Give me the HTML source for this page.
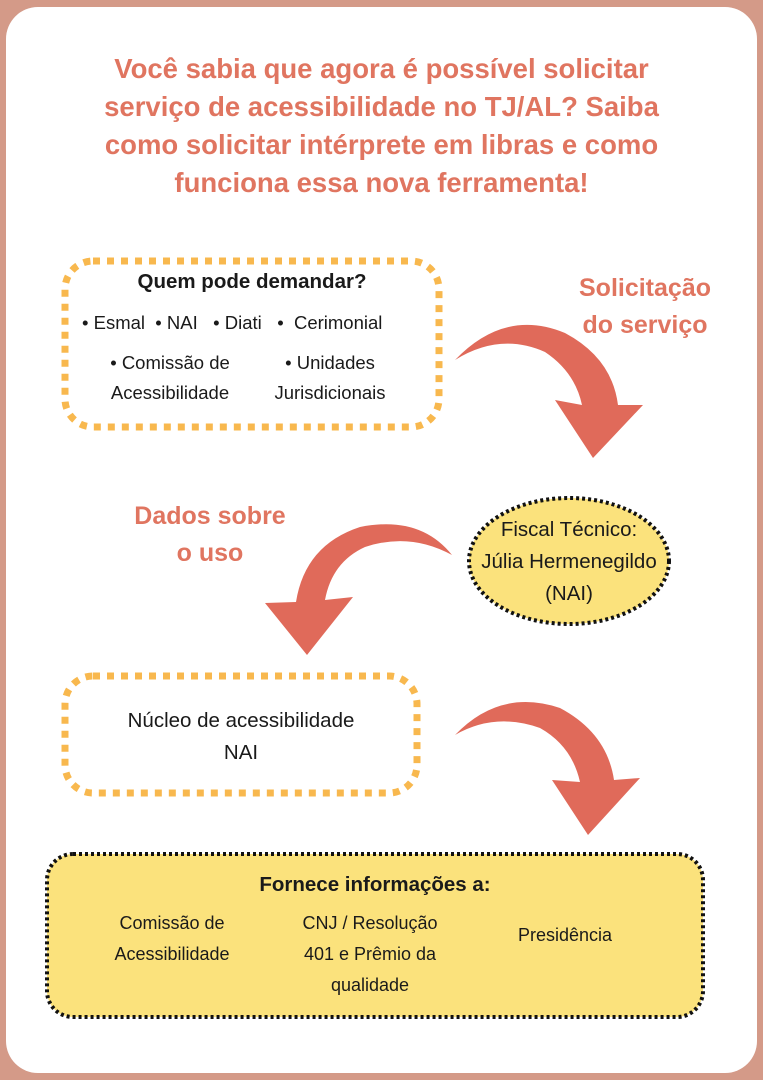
<!DOCTYPE html>
<html><head><meta charset="utf-8"><style>
body{margin:0;width:763px;height:1080px;background:#d49a88;position:relative;overflow:hidden;font-family:"Liberation Sans",sans-serif}
.card{position:absolute;left:6px;top:7px;width:751px;height:1066px;background:#fff;border-radius:32px}
.t{position:absolute;text-align:center;color:#e07560;font-weight:bold}
.b{position:absolute;color:#1a1a1a;font-size:18px;text-align:center;white-space:nowrap}
</style></head><body>
<div class="card"></div>
<div class="t" style="left:20px;width:723px;top:50px;font-size:27.5px;line-height:38px">Você sabia que agora é possível solicitar<br>serviço de acessibilidade no TJ/AL? Saiba<br>como solicitar intérprete em libras e como<br>funciona essa nova ferramenta!</div>
<div class="t" style="left:560px;width:170px;top:270px;font-size:25px;line-height:37px">Solicitação<br>do serviço</div>
<div class="t" style="left:110px;width:200px;top:498px;font-size:25px;line-height:37px">Dados sobre<br>o uso</div>

<svg width="763" height="1080" style="position:absolute;left:0;top:0">
<rect x="65" y="261" width="374" height="166" rx="28" fill="none" stroke="#f8b84e" stroke-width="7" stroke-dasharray="7 7"/>
<rect x="65" y="676" width="352" height="117" rx="28" fill="none" stroke="#f8b84e" stroke-width="7" stroke-dasharray="7 7"/>
<ellipse cx="569" cy="561" rx="100" ry="63" fill="#fbe27c" stroke="#111" stroke-width="4" stroke-dasharray="3 3"/>
<rect x="47" y="854" width="656" height="163" rx="26" fill="#fbe27c" stroke="#111" stroke-width="4" stroke-dasharray="3 3"/>
<g fill="#e06a5a">
<path d="M455,360 Q505,308 565,333 Q612,358 618,405 L643,405 L593,458 L555,400 L582,405 Q575,372 545,352 Q500,332 455,360 Z"/>
<path d="M452,555 Q420,515 360,527 Q305,545 296,602 L265,603 L307,655 L353,597 L325,600 Q332,562 365,547 Q410,532 452,555 Z"/>
<path d="M455,735 Q500,688 560,708 Q607,733 614,780 L640,778 L588,835 L552,780 L580,782 Q572,746 540,728 Q495,712 455,735 Z"/>
</g>
</svg>

<div class="b" style="left:65px;width:374px;top:270px;font-weight:bold;font-size:20.5px">Quem pode demandar?</div>
<div class="b" style="left:82px;top:312px;font-size:18.5px;text-align:left;white-space:pre">• Esmal  • NAI   • Diati   •  Cerimonial</div>
<div class="b" style="left:85px;width:170px;top:348px;font-size:18.5px;line-height:30px">•  Comissão de<br>Acessibilidade</div>
<div class="b" style="left:255px;width:150px;top:348px;font-size:18.5px;line-height:30px">•  Unidades<br>Jurisdicionais</div>
<div class="b" style="left:458px;width:222px;top:514px;font-size:20.5px;line-height:32px">Fiscal Técnico:<br>Júlia Hermenegildo<br>(NAI)</div>
<div class="b" style="left:55px;width:372px;top:705px;font-size:20.5px;line-height:32px">Núcleo de acessibilidade<br>NAI</div>
<div class="b" style="left:47px;width:656px;top:873px;font-weight:bold;font-size:20.5px">Fornece informações a:</div>
<div class="b" style="left:82px;width:180px;top:908px;font-size:18px;line-height:31px">Comissão de<br>Acessibilidade</div>
<div class="b" style="left:280px;width:180px;top:908px;font-size:18px;line-height:31px">CNJ / Resolução<br>401 e Prêmio da<br>qualidade</div>
<div class="b" style="left:490px;width:150px;top:925px;font-size:18px">Presidência</div>
</body></html>
